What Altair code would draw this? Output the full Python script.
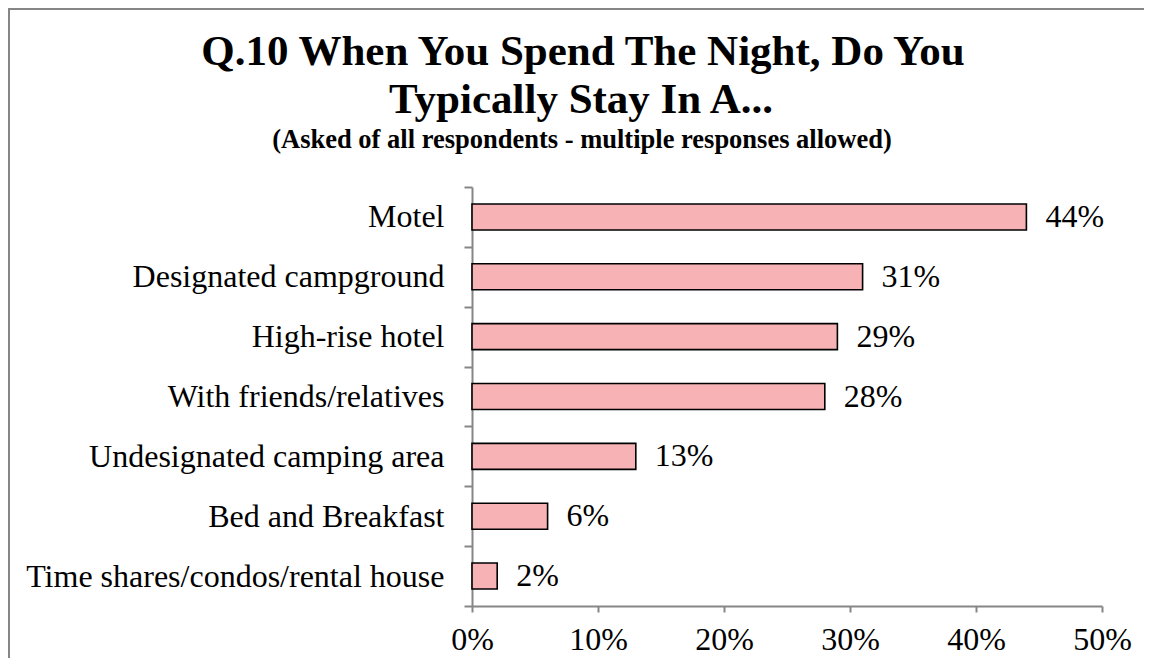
import altair as alt
import pandas as pd

categories = ["Motel", "Designated campground", "High-rise hotel", "With friends/relatives",
              "Undesignated camping area", "Bed and Breakfast", "Time shares/condos/rental house"]
values = [0.44, 0.31, 0.29, 0.28, 0.13, 0.06, 0.02]
x_ticks = [0, 0.1, 0.2, 0.3, 0.4, 0.5]

title_lines = ["Q.10 When You Spend The Night, Do You", "Typically Stay In A..."]
subtitle = "(Asked of all respondents - multiple responses allowed)"

df = pd.DataFrame({"cat": categories, "val": values})
df["lab"] = [f"{round(v*100)}%" for v in values]

FONT = "Liberation Serif"
GRAY = "#868686"
W, H = 630, 419

base = alt.Chart(df)

bars = base.mark_bar(fill="#F6B2B4", stroke="black", strokeWidth=1.6, size=26).encode(
    y=alt.Y("cat:N", sort=categories, title=None,
            scale=alt.Scale(paddingInner=0, paddingOuter=0),
            axis=alt.Axis(tickBand="extent", domainColor=GRAY, tickColor=GRAY, tickSize=8,
                          tickWidth=2, domainWidth=2, labelFont=FONT, labelFontSize=32,
                          labelColor="black", labelPadding=20, labelLimit=600)),
    x=alt.X("val:Q", title=None, scale=alt.Scale(domain=[0, 0.5], nice=False),
            axis=alt.Axis(values=x_ticks, format=".0%", grid=False, domainColor=GRAY,
                          tickColor=GRAY, tickSize=6, tickWidth=2, domainWidth=2,
                          labelFont=FONT, labelFontSize=32, labelColor="black",
                          labelPadding=12, labelFlush=False)),
)

texts = base.mark_text(align="left", baseline="middle", dx=19, font=FONT, fontSize=32,
                       color="black").encode(
    y=alt.Y("cat:N", sort=categories),
    x=alt.X("val:Q"),
    text="lab:N",
)

t1 = alt.Chart(pd.DataFrame({"t": [title_lines[0]]})).mark_text(
    font=FONT, fontSize=43, fontWeight="bold", align="center", baseline="alphabetic",
    color="black").encode(x=alt.value(111), y=alt.value(-122), text="t:N")
t2 = alt.Chart(pd.DataFrame({"t": [title_lines[1]]})).mark_text(
    font=FONT, fontSize=43, fontWeight="bold", align="center", baseline="alphabetic",
    color="black").encode(x=alt.value(109), y=alt.value(-74), text="t:N")
t3 = alt.Chart(pd.DataFrame({"t": [subtitle]})).mark_text(
    font=FONT, fontSize=26.5, fontWeight="bold", align="center", baseline="alphabetic",
    color="black").encode(x=alt.value(110), y=alt.value(-39), text="t:N")

one = pd.DataFrame({"a": [0]})
border_left = alt.Chart(one).mark_rule(color=GRAY, strokeWidth=2, clip=False).encode(
    x=alt.value(-463), y=alt.value(-179), y2=alt.value(500))
border_top = alt.Chart(one).mark_rule(color=GRAY, strokeWidth=2, clip=False).encode(
    x=alt.value(-464), x2=alt.value(680), y=alt.value(-178))

chart = alt.layer(bars, texts, t1, t2, t3, border_left, border_top).properties(
    width=W, height=H,
    padding={"left": 464, "top": 179, "right": 42, "bottom": 52},
    autosize=alt.AutoSizeParams(type="none"),
).configure(background="white").configure_view(stroke=None, strokeWidth=0)

chart.save("out.html", embed_options={"renderer": "svg", "actions": False})
